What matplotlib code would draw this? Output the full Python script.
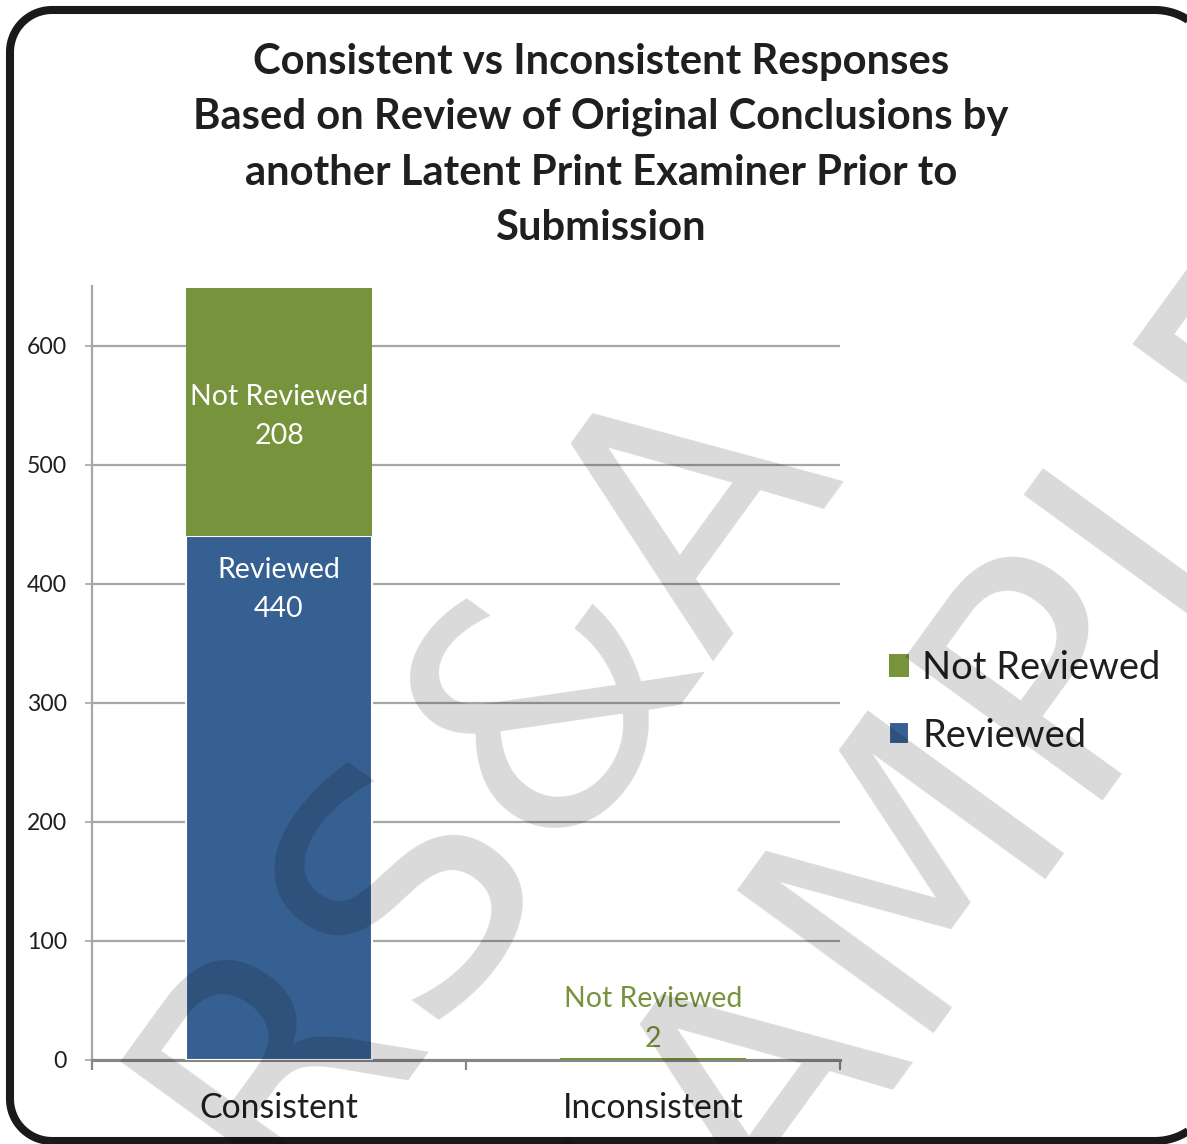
import numpy as np
import matplotlib
matplotlib.use("Agg")
import matplotlib.pyplot as plt
import matplotlib.transforms as mtransforms
from matplotlib.patches import Polygon

# ---------------- data ----------------
categories = ["Consistent", "Inconsistent"]
series_names = ["Reviewed", "Not Reviewed"]
reviewed = [440, 0]
not_reviewed = [208, 2]
yticks = [0, 100, 200, 300, 400, 500, 600]
title_lines = [
    "Consistent vs Inconsistent Responses",
    "Based on Review of Original Conclusions by",
    "another Latent Print Examiner Prior to",
    "Submission",
]
watermark_lines = ["RS&A", "SAMPLE"]

# ---------------- style ----------------
W, H, DPI = 1187, 1144, 100
FONT = "Lato"
BLUE = "#366092"
GREEN = "#77933c"
TXT = "#1f1f1f"
GRID = "#a6a6a6"

fig = plt.figure(figsize=(W / DPI, H / DPI), dpi=DPI)
fig.patch.set_facecolor("white")
renderer = fig.canvas.get_renderer()


def fit(text, target_px, weight="normal", family=FONT):
    t = fig.text(0, 0, text, fontsize=20, family=family, weight=weight)
    w = t.get_window_extent(renderer=renderer).width
    t.remove()
    return 20.0 * target_px / w


def fy(ypx):
    return 1 - ypx / H


# frame: rounded rectangle in pixel coords (right edge just outside picture)
def rounded_rect(x0, y0, x1, y1, radii, n=24):
    # radii: top-right, top-left, bottom-left, bottom-right
    pts = []
    rtr, rtl, rbl, rbr = radii
    for cx, cy, r, t1, t2 in [(x1 - rtr, y1 - rtr, rtr, 0, 90),
                              (x0 + rtl, y1 - rtl, rtl, 90, 180),
                              (x0 + rbl, y0 + rbl, rbl, 180, 270),
                              (x1 - rbr, y0 + rbr, rbr, 270, 360)]:
        th = np.radians(np.linspace(t1, t2, n))
        pts.extend(zip(cx + r * np.cos(th), cy + r * np.sin(th)))
    return np.array(pts)


frame = Polygon(rounded_rect(10, 3, 1215, 1134, (60, 42, 42, 60)), closed=True,
                transform=mtransforms.IdentityTransform(), facecolor="none",
                edgecolor="#1a1a1a", linewidth=5.8, zorder=1)
fig.add_artist(frame)

# title
tsize = fit(title_lines[1], 815, weight="bold")
for line, base in zip(title_lines, [74, 129, 185, 240]):
    fig.text(601 / W, fy(base), line, ha="center", va="baseline",
             fontsize=tsize, weight="bold", family=FONT, color=TXT)

# axes
ax = fig.add_axes([92 / W, fy(1060), (840 - 92) / W, (1060 - 286) / H])
ax.set_xlim(-0.5, 1.5)
ax.set_ylim(0, 650)
ax.set_facecolor("none")

x = np.arange(len(categories))
width = 0.495
lw_rev = [1.5 if v > 0 else 0 for v in reviewed]
b_rev = ax.bar(x, reviewed, width, color=BLUE, edgecolor="white",
               linewidth=lw_rev, label=series_names[0], zorder=3)
b_not = ax.bar(x, not_reviewed, width, bottom=reviewed, color=GREEN,
               linewidth=0, label=series_names[1], zorder=3)

ax.set_axisbelow(True)
ax.yaxis.grid(True, color=GRID, linewidth=1.6)
for s in ["top", "right"]:
    ax.spines[s].set_visible(False)
ax.spines["left"].set_color(GRID)
ax.spines["left"].set_linewidth(1.6)
ax.spines["bottom"].set_color("#868686")
ax.spines["bottom"].set_linewidth(2.2)

ax.set_yticks(yticks)
ysize = fit("600", 40)
ax.tick_params(axis="y", length=5.0, width=1.2, color=GRID, pad=13,
               labelsize=ysize, labelcolor=TXT)
for lab in ax.get_yticklabels():
    lab.set_family(FONT)

ax.set_xticks([-0.5, 0.5, 1.5])
ax.set_xticklabels([])
ax.tick_params(axis="x", length=7.2, width=1.6, color="#868686")

# category labels
csize = fit(categories[0], 159)
trans_x = mtransforms.blended_transform_factory(ax.transData, fig.transFigure)
for xi, cat in zip(x, categories):
    ax.text(xi, fy(1118), cat, transform=trans_x, ha="center", va="baseline",
            fontsize=csize, family=FONT, color=TXT, clip_on=False)

# data labels
lsize = fit("Not Reviewed", 179)
# Consistent - Not Reviewed (centered in segment)
i = 0
yc = reviewed[i] + not_reviewed[i] / 2
ax.annotate(series_names[1], (x[i], yc), xytext=(0, 7.6), textcoords="offset pixels",
            ha="center", va="baseline", fontsize=lsize, family=FONT, color="white")
ax.annotate(str(not_reviewed[i]), (x[i], yc), xytext=(0, -31.4), textcoords="offset pixels",
            ha="center", va="baseline", fontsize=lsize, family=FONT, color="white")
# Consistent - Reviewed (inside end)
ax.annotate(series_names[0], (x[i], reviewed[i]), xytext=(0, -41.6), textcoords="offset pixels",
            ha="center", va="baseline", fontsize=lsize, family=FONT, color="white")
ax.annotate(str(reviewed[i]), (x[i], reviewed[i]), xytext=(0, -80.6), textcoords="offset pixels",
            ha="center", va="baseline", fontsize=lsize, family=FONT, color="white")
# Inconsistent - Not Reviewed (above)
i = 1
top = reviewed[i] + not_reviewed[i]
ax.annotate(series_names[1], (x[i], top), xytext=(0, 50.6), textcoords="offset pixels",
            ha="center", va="baseline", fontsize=lsize, family=FONT, color=GREEN)
ax.annotate(str(not_reviewed[i]), (x[i], top), xytext=(0, 10.6), textcoords="offset pixels",
            ha="center", va="baseline", fontsize=lsize, family=FONT, color=GREEN)

# legend
gsize = fit("Not Reviewed", 238)
gpx = gsize * DPI / 72
leg = fig.legend([b_not, b_rev], [series_names[1], series_names[0]],
                 loc="upper left", bbox_to_anchor=(889 / W, fy(650)),
                 frameon=False, prop={"family": FONT, "size": gsize},
                 handlelength=20 / gpx, handleheight=20 / gpx,
                 handletextpad=13 / gpx, labelspacing=0.83, borderpad=0,
                 borderaxespad=0)
for t in leg.get_texts():
    t.set_color(TXT)

# watermark
wsize = 240
for line, (bx, by) in zip(watermark_lines, [(285, 1205), (644, 1402)]):
    fig.text(bx / W, fy(by), line, rotation=54, rotation_mode="anchor",
             ha="left", va="baseline", fontsize=wsize, family="DejaVu Sans",
             color="black", alpha=0.15, zorder=10)

fig.savefig("out.png", dpi=DPI)
